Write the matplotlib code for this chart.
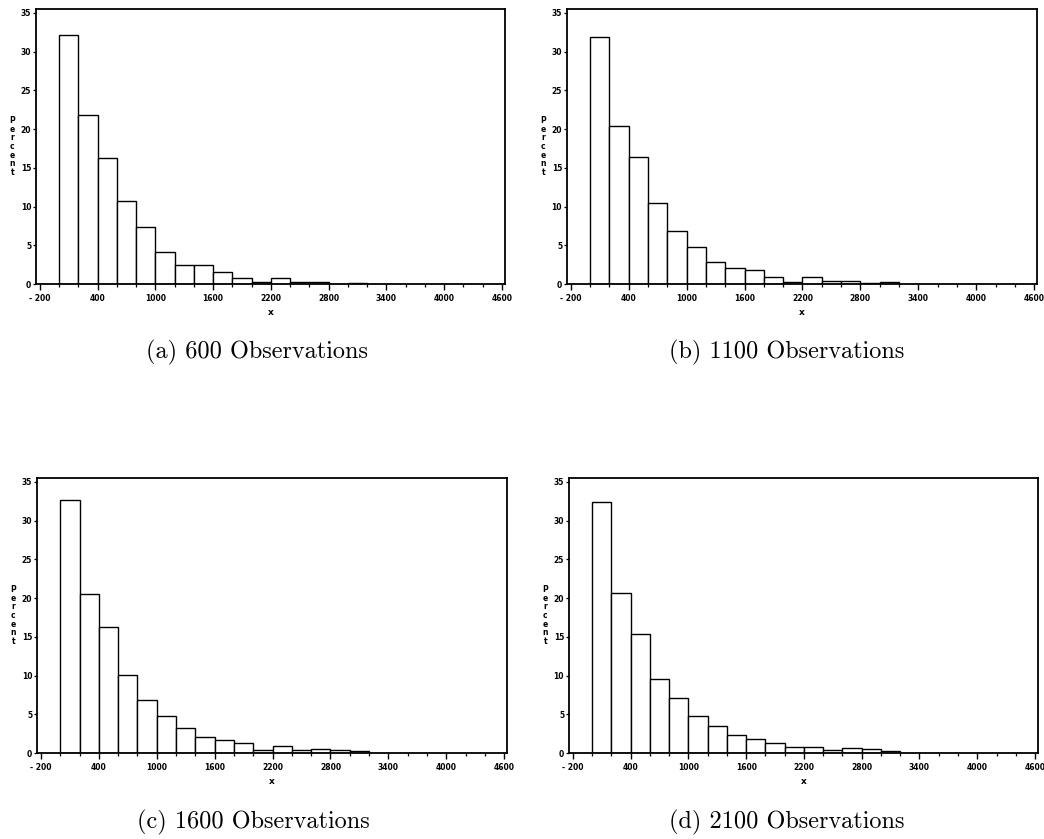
import matplotlib
matplotlib.use("Agg")
import matplotlib.pyplot as plt
from matplotlib.ticker import MultipleLocator, FixedLocator

# bin edges: 200 wide, starting at 0
bin_left = [0, 200, 400, 600, 800, 1000, 1200, 1400, 1600, 1800,
            2000, 2200, 2400, 2600, 2800, 3000]
bin_width = 200

# percent per bin
pct_600 = [32.1, 21.8, 16.3, 10.75, 7.37, 4.07, 2.44, 2.44, 1.59, 0.73,
           0.26, 0.77, 0.2, 0.2, 0.0, 0.17]
pct_1100 = [31.9, 20.4, 16.35, 10.5, 6.9, 4.82, 2.86, 2.13, 1.84, 0.94,
            0.3, 0.94, 0.34, 0.34, 0.17, 0.2]
pct_1600 = [32.6, 20.5, 16.2, 10.1, 6.87, 4.81, 3.22, 2.02, 1.72, 1.25,
            0.43, 0.86, 0.34, 0.5, 0.4, 0.2]
pct_2100 = [32.4, 20.7, 15.3, 9.5, 7.07, 4.8, 3.5, 2.26, 1.87, 1.23,
            0.81, 0.81, 0.34, 0.6, 0.5, 0.25]

captions = ["(a) 600 Observations", "(b) 1100 Observations",
            "(c) 1600 Observations", "(d) 2100 Observations"]

x_ticks = [-200, 400, 1000, 1600, 2200, 2800, 3400, 4000, 4600]
x_tick_labels = ["- 200", "400", "1000", "1600", "2200", "2800", "3400",
                 "4000", "4600"]
y_ticks = [0, 5, 10, 15, 20, 25, 30, 35]

fig = plt.figure(figsize=(10.44, 8.39), dpi=100)

# axes boxes in figure fractions
boxes = [
    [0.0345, 0.6615, 0.449, 0.3278],
    [0.5431, 0.6615, 0.4502, 0.3278],
    [0.0355, 0.1025, 0.4502, 0.3278],
    [0.5450, 0.1025, 0.4492, 0.3278],
]
cap_pos = [(0.246, 0.5805), (0.754, 0.5805), (0.243, 0.0203), (0.754, 0.0203)]

tick_font = dict(family="DejaVu Sans", size=5.5, weight="bold")

for box, values, cap, cp in zip(boxes, [pct_600, pct_1100, pct_1600, pct_2100],
                                captions, cap_pos):
    ax = fig.add_axes(box)
    ax.bar(bin_left, values, width=bin_width, align="edge",
           facecolor="white", edgecolor="black", linewidth=1.0)
    ax.set_xlim(-240, 4630)
    ax.set_ylim(0, 35.5)

    ax.xaxis.set_major_locator(FixedLocator(x_ticks))
    ax.xaxis.set_minor_locator(MultipleLocator(200))
    ax.set_xticklabels(x_tick_labels, **tick_font)
    ax.set_yticks(y_ticks)
    ax.set_yticklabels([str(v) for v in y_ticks], **tick_font)

    ax.tick_params(axis="x", which="major", direction="out", length=4,
                   width=1.0, pad=3)
    ax.tick_params(axis="x", which="minor", direction="out", length=2.5,
                   width=0.9)
    ax.tick_params(axis="y", direction="out", length=2.5, width=0.9, pad=1)

    for s in ax.spines.values():
        s.set_linewidth(1.3)

    ax.set_xlabel("x", fontsize=6.5, weight="bold", labelpad=4)
    ax.set_ylabel("P\ne\nr\nc\ne\nn\nt", fontsize=5.5, weight="bold",
                  rotation=0, linespacing=0.95, labelpad=6, va="center")

    fig.text(cp[0], cp[1], cap, family="cmr10", fontsize=17.5,
             ha="center", va="center")

fig.savefig("out.png", dpi=100)
